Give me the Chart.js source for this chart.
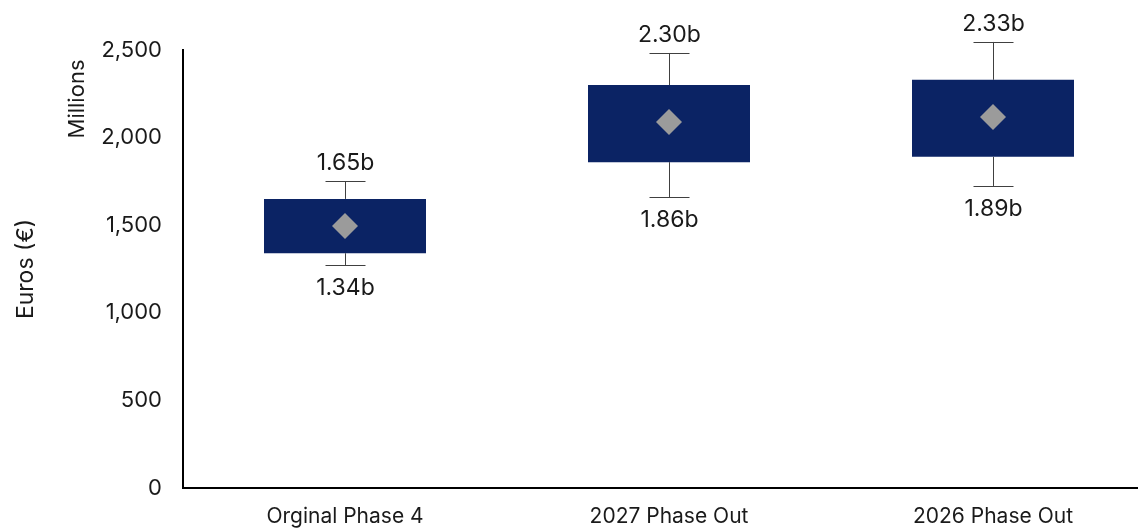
<!DOCTYPE html>
<html>
<head>
<meta charset="utf-8">
<script src="https://cdn.jsdelivr.net/npm/chart.js@4"></script>
<style>
  html, body { margin: 0; padding: 0; background: #fff; overflow: hidden; }
  canvas { display: block; }
</style>
</head>
<body>
<canvas id="boxChart" width="1168" height="528"></canvas>
<script>
const categories = ['Orginal Phase 4', '2027 Phase Out', '2026 Phase Out']
// values in millions of euros
const boxLow = [1340, 1860, 1890]
const boxHigh = [1650, 2300, 2330]
const whiskerLow = [1273, 1661, 1724]
const whiskerHigh = [1752, 2483, 2546]
const meanValues = [1495, 2089, 2118]
const yTicks = [0, 500, 1000, 1500, 2000, 2500]

const fontFamily = 'Inter, "Noto Sans", sans-serif'
const textColor = '#1a1a1a'

// whiskers, value labels and the "Millions" note
const whiskerPlugin = {
    id: 'whiskers',
    afterDatasetsDraw(chart) {
        const ctx = chart.ctx
        const x = chart.scales.x
        const y = chart.scales.y
        ctx.save()
        for (let i = 0; i < categories.length; i++) {
            const cx = Math.round(x.getPixelForValue(i)) + 0.5
            const yTop = y.getPixelForValue(whiskerHigh[i])
            const yBoxTop = y.getPixelForValue(boxHigh[i])
            const yBoxBot = y.getPixelForValue(boxLow[i])
            const yBot = y.getPixelForValue(whiskerLow[i])
            ctx.strokeStyle = '#404040'
            ctx.lineWidth = 1
            ctx.beginPath()
            ctx.moveTo(cx, yBoxTop)
            ctx.lineTo(cx, yTop)
            ctx.moveTo(cx - 20, Math.round(yTop) + 0.5)
            ctx.lineTo(cx + 20, Math.round(yTop) + 0.5)
            ctx.moveTo(cx, yBoxBot)
            ctx.lineTo(cx, yBot)
            ctx.moveTo(cx - 20, Math.round(yBot) + 0.5)
            ctx.lineTo(cx + 20, Math.round(yBot) + 0.5)
            ctx.stroke()

            ctx.fillStyle = textColor
            ctx.font = '23px ' + fontFamily
            ctx.textAlign = 'center'
            ctx.textBaseline = 'middle'
            ctx.fillText((boxHigh[i] / 1000).toFixed(2) + 'b', cx, yTop - 18)
            ctx.fillText((boxLow[i] / 1000).toFixed(2) + 'b', cx, yBot + 23)
        }
        ctx.translate(77, 99)
        ctx.rotate(-Math.PI / 2)
        ctx.font = '22px ' + fontFamily
        ctx.fillStyle = textColor
        ctx.textAlign = 'center'
        ctx.textBaseline = 'middle'
        ctx.fillText('Millions', 0, 0)
        ctx.restore()
    }
}

const dadosBox = {
    labels: categories,
    datasets: [
        {
            type: 'line',
            label: 'Mean',
            data: meanValues,
            showLine: false,
            pointStyle: 'rectRot',
            pointRadius: 13,
            pointHoverRadius: 13,
            backgroundColor: '#9b9b9b',
            borderColor: '#9b9b9b',
            borderWidth: 0,
            order: 0
        },
        {
            type: 'bar',
            label: 'Range',
            data: boxLow.map((v, i) => [v, boxHigh[i]]),
            backgroundColor: '#0b2364',
            borderWidth: 0,
            categoryPercentage: 1,
            barPercentage: 0.5,
            order: 1
        }
    ]
}

const graficoBox = {
    type: 'bar',
    data: dadosBox,
    options: {
        responsive: false,
        animation: false,
        layout: { padding: { top: 50, right: 0, bottom: 0, left: 0 } },
        plugins: {
            legend: { display: false },
            tooltip: { enabled: false }
        },
        scales: {
            x: {
                offset: true,
                afterFit(axis) {
                    axis.height = 40
                },
                grid: { display: false, drawTicks: false },
                border: { color: '#000', width: 2 },
                ticks: {
                    color: textColor,
                    font: { family: fontFamily, size: 21 },
                    padding: 16
                }
            },
            y: {
                min: 0,
                max: 2500,
                afterBuildTicks(axis) {
                    axis.ticks = yTicks.map(v => ({ value: v }))
                },
                afterFit(axis) {
                    axis.width = 183
                },
                grid: { display: false, drawTicks: false },
                border: { color: '#000', width: 2 },
                ticks: {
                    color: textColor,
                    font: { family: fontFamily, size: 22 },
                    padding: 21,
                    callback: v => v.toLocaleString('en-US')
                },
                title: {
                    display: true,
                    text: 'Euros (€)',
                    color: textColor,
                    font: { family: fontFamily, size: 23 },
                    padding: { top: 12, bottom: 0 }
                }
            }
        }
    },
    plugins: [whiskerPlugin]
}

const myChart = new Chart(document.getElementById('boxChart'), graficoBox)
</script>
</body>
</html>
